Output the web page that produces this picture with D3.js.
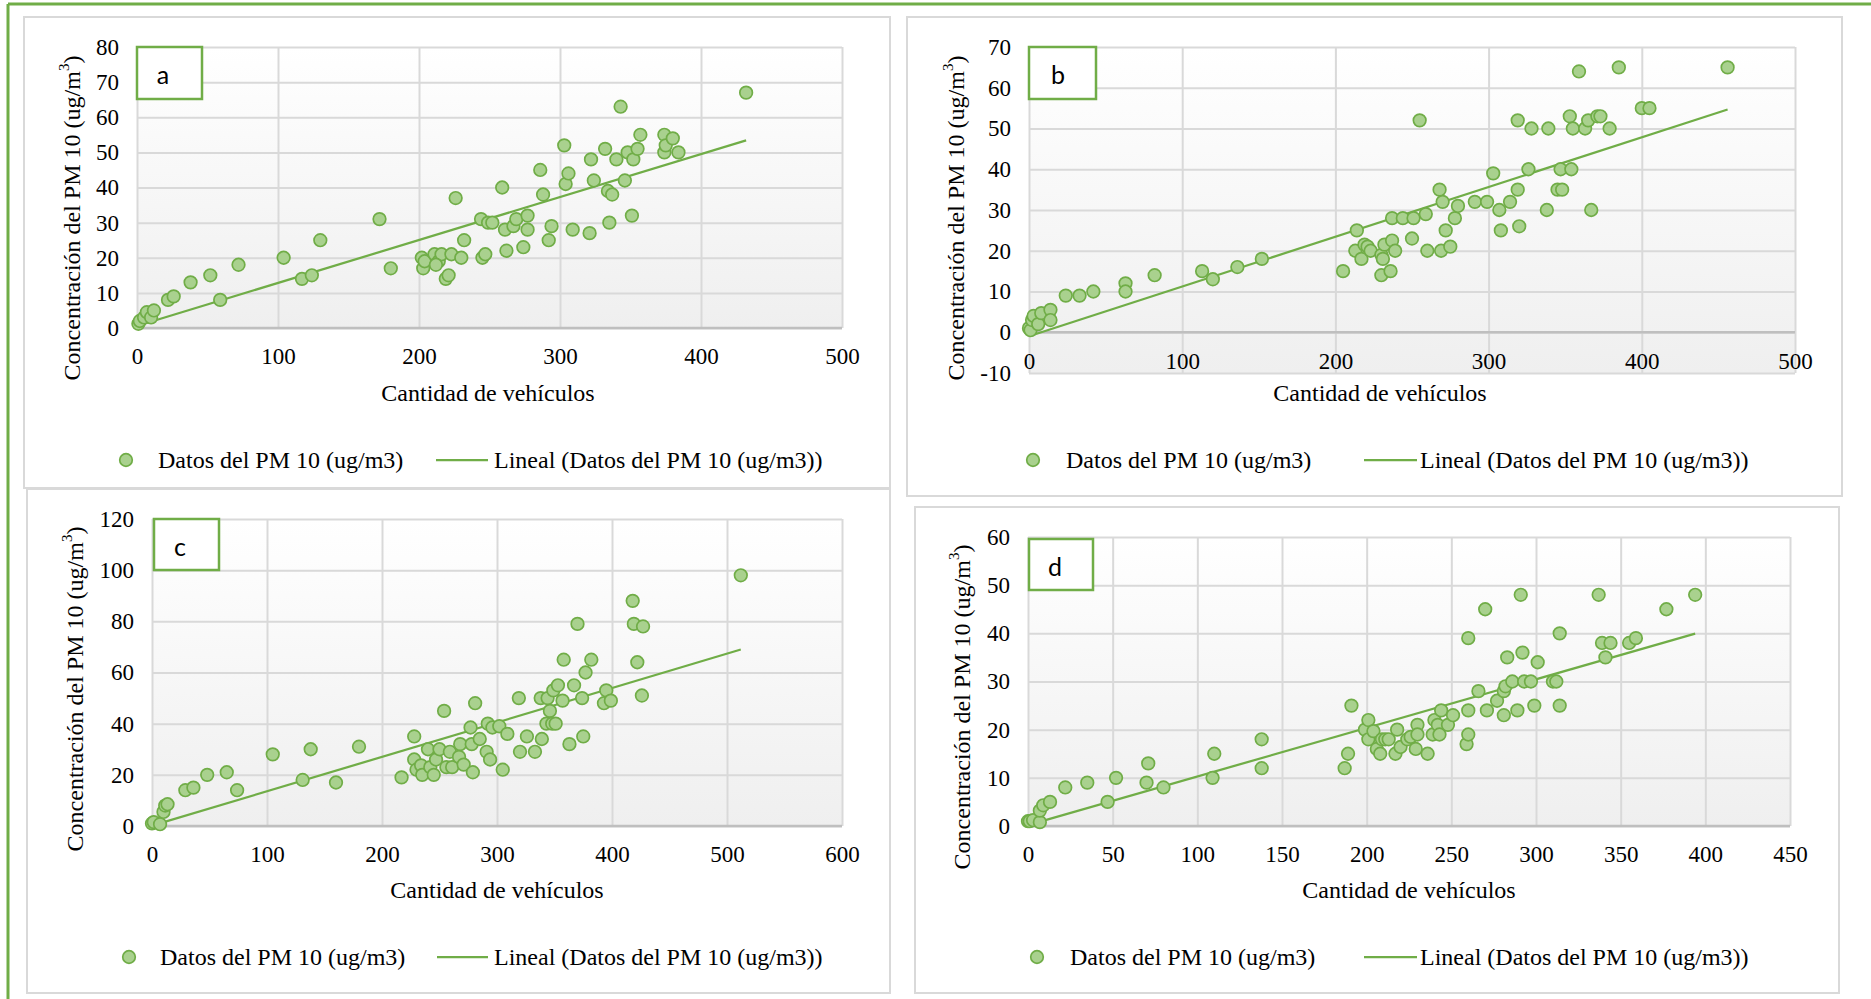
<!DOCTYPE html>
<html>
<head>
<meta charset="utf-8">
<script src="https://cdn.jsdelivr.net/npm/d3@7"></script>
<style>
  body { margin: 0; background: #fff; }
  svg text { font-family: "Liberation Serif", "Times New Roman", serif; fill: #000; }
</style>
</head>
<body>
<svg id="chart" width="1871" height="999"></svg>
<script>
(function () {
  'use strict';

  // panel a
  var vehA = [1,2,5,7,10,12,22,26,38,52,59,72,104,117,124,130,172,180,202,203,204,211,214,216,212,219,221,223,226,230,232,244,245,247,249,252,259,261,262,267,269,274,277,277,286,288,292,294,303,304,306,309,321,322,324,332,334,335,337,340,343,346,348,351,352,355,357,374,374,375,380,384,432];
  var pmA = [1.2,2,3,4.5,3,5,8,9,13,15,8,18,20,14,15,25,31,17,20,17,19,21,19,21,18,14,15,21,37,20,25,31,20,21,30,30,40,28,22,29,31,23,32,28,45,38,25,29,52,41,44,28,27,48,42,51,39,30,38,48,63,42,50,32,48,51,55,50,55,52,54,50,67];
  var xTicksA = [0,100,200,300,400,500];
  var yTicksA = [0,10,20,30,40,50,60,70,80];

  // panel b
  var vehB = [0,1,2,3,6,8,14,14,24,33,42,63,63,82,113,120,136,152,205,213,214,217,219,221,223,230,230,231,232,236,237,237,239,244,250,251,255,259,260,268,269,270,272,275,278,280,291,299,303,307,308,314,319,319,320,326,328,338,339,345,347,348,353,354,355,359,363,365,367,371,373,379,385,400,405,456];
  var pmB = [1,0.5,3,4,2,4.7,5.5,3,9,9,10,12,10,14,15,13,16,18,15,20,25,18,21.5,21,20,19,14,18,21.5,15,22.5,28,20,28,23,28,52,29,20,35,20,32,25,21,28,31,32,32,39,30,25,32,52,35,26,40,50,30,50,35,40,35,53,40,50,64,50,52,30,53,53,50,65,55,55,65];
  var xTicksB = [0,100,200,300,400,500];
  var yTicksB = [-10,0,10,20,30,40,50,60,70];

  // panel c
  var vehC = [0,1.5,7,10,11.5,13.5,29,36,48,65,74,105,131,138,160,180,217,228,228,230,234,235,240,242,245,247,250,254,256,259,261,267,268,271,277,278,279,281,285,291,292,294,296,302,305,309,319,320,326,333,338,339,343,344,346,348,349,351,353,357,358,363,367,370,374,375,377,382,393,395,399,418,419,422,426,427,512];
  var pmC = [1,1.5,0.7,5.5,8,8.5,14,15,20,21,14,28,18,30,17,31,19,35,26,22,23.7,20,30,23,20,26,30,45,23,29,23,27,32,24,38.5,32,21,48,34,29,40,26,38.5,39,22,36,50,29,35,29,50,34,40,50,45,40,53,40,55,49,65,32,55,79,50,35,60,65,48,53,49,88,79,64,51,78,98];
  var xTicksC = [0,100,200,300,400,500,600];
  var yTicksC = [0,20,40,60,80,100,120];

  // panel d
  var vehD = [0,1,3,7,7,9,13,22,35,47,52,70,71,80,109,110,138,138,187,189,191,199,201,201,204,206,208,209,211,213,217,218,220,224,226,229,230,230,236,239,240,242,243,244,248,251,259,260,260,260,266,270,271,277,281,281,282,283,286,289,291,292,293,297,299,301,310,312,314,314,337,339,341,344,355,359,377,394];
  var pmD = [1,1,1.2,0.8,3.2,4.3,5,8,9,5,10,9,13,8,10,15,12,18,12,15,25,20,22,18,19.7,16,15,18,18,18,15,20,16.4,18,18.5,16,21,19,15,19,22,21,19,24,21,23,17,24,19,39,28,45,24,26,28,23,29,35,30,24,48,36,30,30,25,34,30,30,25,40,48,38,35,38,38,39,45,48];
  var xTicksD = [0,50,100,150,200,250,300,350,400,450];
  var yTicksD = [0,10,20,30,40,50,60];

  var seriesName = 'Datos del PM 10 (ug/m3)';
  var trendName = 'Lineal (Datos del PM 10 (ug/m3))';
  var xTitle = 'Cantidad de vehículos';

  var green = '#70ad47';
  var lightGreen = '#a9d18e';
  var serif = '"Liberation Serif", "Times New Roman", serif';

  // layout: box, plot area, label box, title and legend positions
  var panels = [
    { label: 'a', veh: vehA, pm: pmA, xTicks: xTicksA, yTicks: yTicksA,
      box: [24, 17, 890, 488], plot: [137, 47, 842, 328],
      tag: [137, 47, 65, 52, 163, 74], yTitle: [72, 218], xTitle: [488, 393],
      legend: [126, 158, 436, 488, 494, 460] },
    { label: 'b', veh: vehB, pm: pmB, xTicks: xTicksB, yTicks: yTicksB,
      box: [907, 17, 1842, 496], plot: [1029, 47, 1795, 373],
      tag: [1029, 47, 67, 52, 1058, 74], yTitle: [956, 218], xTitle: [1380, 393],
      legend: [1033, 1066, 1364, 1417, 1420, 460] },
    { label: 'c', veh: vehC, pm: pmC, xTicks: xTicksC, yTicks: yTicksC,
      box: [27, 489, 890, 993], plot: [152, 519, 842, 826],
      tag: [154, 519, 65, 51, 180, 546], yTitle: [75, 689], xTitle: [497, 890],
      legend: [129, 160, 437, 488, 494, 957] },
    { label: 'd', veh: vehD, pm: pmD, xTicks: xTicksD, yTicks: yTicksD,
      box: [915, 507, 1839, 993], plot: [1028, 537, 1790, 826],
      tag: [1029, 539, 64, 51, 1055, 566], yTitle: [962, 707], xTitle: [1409, 890],
      legend: [1037, 1070, 1364, 1417, 1420, 957] }
  ];

  var svg = d3.select('#chart');

  var grad = svg.append('defs').append('linearGradient')
      .attr('id', 'plotBg')
      .attr('x1', 0).attr('y1', 0).attr('x2', 0).attr('y2', 1);
  grad.append('stop').attr('offset', '0%').attr('stop-color', '#ffffff');
  grad.append('stop').attr('offset', '100%').attr('stop-color', '#efefef');

  // outer green frame
  svg.append('line')
     .attr('x1', 8).attr('x2', 1871).attr('y1', 4).attr('y2', 4)
     .attr('stroke', green).attr('stroke-width', 3);
  svg.append('line')
     .attr('x1', 8).attr('x2', 8).attr('y1', 4).attr('y2', 999)
     .attr('stroke', green).attr('stroke-width', 3);

  function linReg(xs, ys) {
    var mx = d3.mean(xs), my = d3.mean(ys);
    var sxy = 0, sxx = 0;
    xs.forEach(function(v, i) {
      sxy += (v - mx) * (ys[i] - my);
      sxx += (v - mx) * (v - mx);
    });
    var slope = sxy / sxx;
    return { slope: slope, intercept: my - slope * mx };
  }

  function plain(d) { return String(d); }

  panels.forEach(function(p) {
    var b = p.box;
    svg.append('rect')
       .attr('x', b[0]).attr('y', b[1])
       .attr('width', b[2] - b[0]).attr('height', b[3] - b[1])
       .attr('fill', '#fff')
       .attr('stroke', '#d9d9d9')
       .attr('stroke-width', 2);
  });

  panels.forEach(function(p) {
    var left = p.plot[0], top = p.plot[1];
    var width = p.plot[2] - p.plot[0];
    var height = p.plot[3] - p.plot[1];

    var x = d3.scaleLinear()
        .domain(d3.extent(p.xTicks))
        .range([0, width]);
    var y = d3.scaleLinear()
        .domain(d3.extent(p.yTicks))
        .range([height, 0]);

    var g = svg.append('g')
        .attr('transform', 'translate(' + left + ',' + top + ')');

    g.append('rect')
     .attr('width', width)
     .attr('height', height)
     .attr('fill', 'url(#plotBg)');

    // gridlines
    var gx = g.append('g')
       .attr('transform', 'translate(0,' + height + ')')
       .call(d3.axisBottom(x).tickValues(p.xTicks).tickSize(-height).tickFormat(''));
    var gy = g.append('g')
       .call(d3.axisLeft(y).tickValues(p.yTicks).tickSize(-width).tickFormat(''));
    [gx, gy].forEach(function(sel) {
      sel.select('.domain').remove();
      sel.selectAll('line').attr('stroke', '#d9d9d9').attr('stroke-width', 2);
    });

    // horizontal axis at zero
    g.append('line')
     .attr('x1', 0).attr('x2', width)
     .attr('y1', y(0)).attr('y2', y(0))
     .attr('stroke', '#bfbfbf')
     .attr('stroke-width', 2.5);

    // tick labels
    var ax = g.append('g')
       .attr('transform', 'translate(0,' + y(0) + ')')
       .call(d3.axisBottom(x).tickValues(p.xTicks).tickFormat(plain).tickSize(0).tickPadding(20));
    var ay = g.append('g')
       .call(d3.axisLeft(y).tickValues(p.yTicks).tickFormat(plain).tickSize(0).tickPadding(18));
    [ax, ay].forEach(function(sel) {
      sel.attr('font-family', null).attr('font-size', null);
      sel.select('.domain').remove();
      sel.selectAll('text')
         .style('font-family', serif)
         .style('font-size', '23px')
         .attr('fill', '#000');
    });

    // linear trend (least squares over the series)
    var fit = linReg(p.veh, p.pm);
    var xr = d3.extent(p.veh);
    g.append('line')
     .attr('x1', x(xr[0])).attr('y1', y(fit.intercept + fit.slope * xr[0]))
     .attr('x2', x(xr[1])).attr('y2', y(fit.intercept + fit.slope * xr[1]))
     .attr('stroke', green)
     .attr('stroke-width', 2.25);

    // points
    g.selectAll('.dot')
     .data(p.veh.map(function(v, i) { return [v, p.pm[i]]; }))
     .enter()
     .append('circle')
     .attr('class', 'dot')
     .attr('cx', function(d) { return x(d[0]); })
     .attr('cy', function(d) { return y(d[1]); })
     .attr('r', 6.3)
     .attr('fill', lightGreen)
     .attr('stroke', green)
     .attr('stroke-width', 1.7);

    // panel letter box
    var t = p.tag;
    svg.append('rect')
       .attr('x', t[0]).attr('y', t[1])
       .attr('width', t[2]).attr('height', t[3])
       .attr('fill', '#fff')
       .attr('stroke', green)
       .attr('stroke-width', 2.5);
    svg.append('text')
       .attr('x', t[4]).attr('y', t[5])
       .attr('text-anchor', 'middle')
       .attr('dominant-baseline', 'central')
       .style('font-family', 'Lato, "Open Sans", sans-serif')
       .attr('font-size', 25)
       .text(p.label);

    // axis titles
    svg.append('text')
       .attr('x', p.xTitle[0]).attr('y', p.xTitle[1])
       .attr('text-anchor', 'middle')
       .attr('dominant-baseline', 'central')
       .attr('font-size', 24)
       .text(xTitle);

    var yt = svg.append('text')
       .attr('transform', 'translate(' + p.yTitle[0] + ',' + p.yTitle[1] + ') rotate(-90)')
       .attr('text-anchor', 'middle')
       .attr('dominant-baseline', 'central')
       .attr('font-size', 24);
    yt.append('tspan').text('Concentración del PM 10 (ug/m');
    yt.append('tspan').attr('baseline-shift', 'super').attr('font-size', 15).text('3');
    yt.append('tspan').text(')');

    // legend
    var l = p.legend;
    svg.append('circle')
       .attr('cx', l[0]).attr('cy', l[5])
       .attr('r', 6.3)
       .attr('fill', lightGreen)
       .attr('stroke', green)
       .attr('stroke-width', 1.7);
    svg.append('text')
       .attr('x', l[1]).attr('y', l[5])
       .attr('dominant-baseline', 'central')
       .attr('font-size', 24)
       .text(seriesName);
    svg.append('line')
       .attr('x1', l[2]).attr('x2', l[3])
       .attr('y1', l[5]).attr('y2', l[5])
       .attr('stroke', green)
       .attr('stroke-width', 2.25);
    svg.append('text')
       .attr('x', l[4]).attr('y', l[5])
       .attr('dominant-baseline', 'central')
       .attr('font-size', 24)
       .text(trendName);
  });
}());
</script>
</body>
</html>
